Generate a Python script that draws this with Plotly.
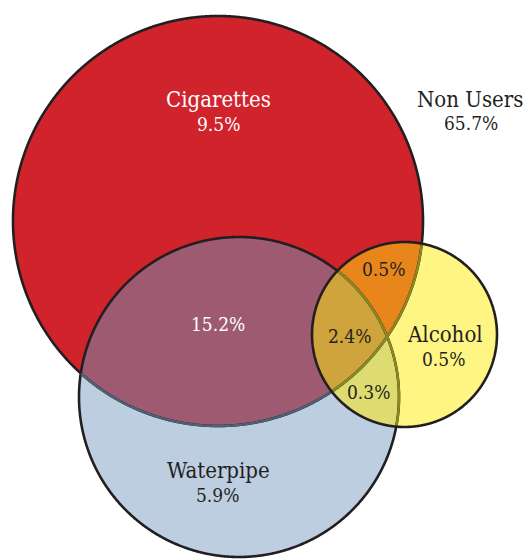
import numpy as np
import plotly.graph_objects as go

# ---- data ----
set_names = ["Cigarettes", "Waterpipe", "Alcohol"]
region_labels = ["Cigarettes", "Waterpipe", "Alcohol", "Cig+Water", "Cig+Alc", "Water+Alc", "All three", "Non Users"]
region_values = [9.5, 5.9, 0.5, 15.2, 0.5, 0.3, 2.4, 65.7]

# ---- layout (pixel geometry, in window pixels) ----
W, H = 531, 559
OFF = 8  # default page body margin
circles = {
    "Cigarettes": (218.0, 221.0, 205.0),
    "Waterpipe": (239.0, 397.0, 160.0),
    "Alcohol": (404.5, 334.5, 92.5),
}
fills = {
    ("Waterpipe",): "#BDCEE0",
    ("Cigarettes",): "#D1232B",
    ("Cigarettes", "Waterpipe"): "#9E5A70",
    ("Alcohol",): "#FEF582",
    ("Cigarettes", "Alcohol"): "#E8861B",
    ("Waterpipe", "Alcohol"): "#DEDC70",
    ("Cigarettes", "Waterpipe", "Alcohol"): "#CFA43C",
}
DARK = "#231F20"
SLATE = "#4D6275"
OLIVE = "#8C8A1E"

N = 1440


def circle_pts(c, theta):
    cx, cy, r = c
    return np.column_stack([cx + r * np.cos(theta), cy + r * np.sin(theta)])


def inside(pts, c, tol=1e-9):
    cx, cy, r = c
    return (pts[:, 0] - cx) ** 2 + (pts[:, 1] - cy) ** 2 <= r * r + tol


def region_path(names):
    cs = [circles[n] for n in names]
    th = np.linspace(0, 2 * np.pi, N, endpoint=False)
    allp = []
    for i, c in enumerate(cs):
        p = circle_pts(c, th)
        m = np.ones(len(p), bool)
        for j, d in enumerate(cs):
            if j != i:
                m &= inside(p, d)
        allp.append(p[m])
    P = np.vstack(allp)
    ctr = P.mean(axis=0)
    ang = np.arctan2(P[:, 1] - ctr[1], P[:, 0] - ctr[0])
    P = P[np.argsort(ang)]
    return "M " + " L ".join(f"{x:.2f},{y:.2f}" for x, y in P) + " Z"


def arc_path(name, within):
    c = circles[name]
    d = circles[within]
    phi = np.arctan2(d[1] - c[1], d[0] - c[0])
    th = phi + np.linspace(-np.pi, np.pi, N)
    p = circle_pts(c, th)
    p = p[inside(p, d)]
    return "M " + " L ".join(f"{x:.2f},{y:.2f}" for x, y in p)


def full_circle_path(name):
    th = np.linspace(0, 2 * np.pi, N, endpoint=False)
    p = circle_pts(circles[name], th)
    return "M " + " L ".join(f"{x:.2f},{y:.2f}" for x, y in p) + " Z"


shapes = []
for key, col in fills.items():
    shapes.append(dict(type="path", path=region_path(list(key)), xref="x", yref="y",
                       fillcolor=col, line=dict(width=0), layer="below"))

# outlines
shapes.append(dict(type="path", path=full_circle_path("Cigarettes"), xref="x", yref="y",
                   line=dict(color=DARK, width=2.6), fillcolor="rgba(0,0,0,0)"))
shapes.append(dict(type="path", path=full_circle_path("Waterpipe"), xref="x", yref="y",
                   line=dict(color=DARK, width=2.6), fillcolor="rgba(0,0,0,0)"))
shapes.append(dict(type="path", path=arc_path("Cigarettes", "Waterpipe"), xref="x", yref="y",
                   line=dict(color=SLATE, width=2.4)))
shapes.append(dict(type="path", path=arc_path("Cigarettes", "Alcohol"), xref="x", yref="y",
                   line=dict(color=OLIVE, width=2.4)))
shapes.append(dict(type="path", path=arc_path("Waterpipe", "Alcohol"), xref="x", yref="y",
                   line=dict(color=OLIVE, width=2.4)))
shapes.append(dict(type="path", path=full_circle_path("Alcohol"), xref="x", yref="y",
                   line=dict(color=DARK, width=2.6), fillcolor="rgba(0,0,0,0)"))

# ---- labels ----
FONT = "DejaVu Serif Condensed, Liberation Serif, serif"
NAME_SIZE = 22
NUM_SIZE = 19
WHITE = "#FFFFFF"


def pct(v):
    return f"{v:.1f}%"


name_pos = {
    "Cigarettes": (218, 99, WHITE),
    "Waterpipe": (218.5, 470, DARK),
    "Alcohol": (444.5, 334, DARK),
    "Non Users": (470, 99, DARK),
}
num_pos = {
    "Cigarettes": (218, 124, WHITE),
    "Waterpipe": (217, 495, DARK),
    "Alcohol": (443, 359, DARK),
    "Cig+Water": (217.5, 324, WHITE),
    "Cig+Alc": (383, 269, DARK),
    "Water+Alc": (368, 392, DARK),
    "All three": (349.5, 336, DARK),
    "Non Users": (471, 123, DARK),
}

annotations = []
for lab, (x, y, col) in name_pos.items():
    annotations.append(dict(x=x, y=y, xref="x", yref="y", text=lab, showarrow=False,
                            xanchor="center", yanchor="middle",
                            font=dict(family=FONT, size=NAME_SIZE, color=col)))
for lab, val in zip(region_labels, region_values):
    x, y, col = num_pos[lab]
    annotations.append(dict(x=x, y=y, xref="x", yref="y", text=pct(val), showarrow=False,
                            xanchor="center", yanchor="middle",
                            font=dict(family=FONT, size=NUM_SIZE, color=col)))

fig = go.Figure(go.Scatter(x=[OFF, W], y=[OFF, H], mode="markers", marker=dict(opacity=0),
                           hoverinfo="skip", showlegend=False))
fig.update_layout(
    width=W, height=H, margin=dict(l=0, r=0, t=0, b=0),
    paper_bgcolor="white", plot_bgcolor="white",
    xaxis=dict(range=[OFF, W + OFF], visible=False, fixedrange=True),
    yaxis=dict(range=[H + OFF, OFF], visible=False, fixedrange=True),
    shapes=shapes, annotations=annotations, showlegend=False,
)
fig.write_html("out.html")
